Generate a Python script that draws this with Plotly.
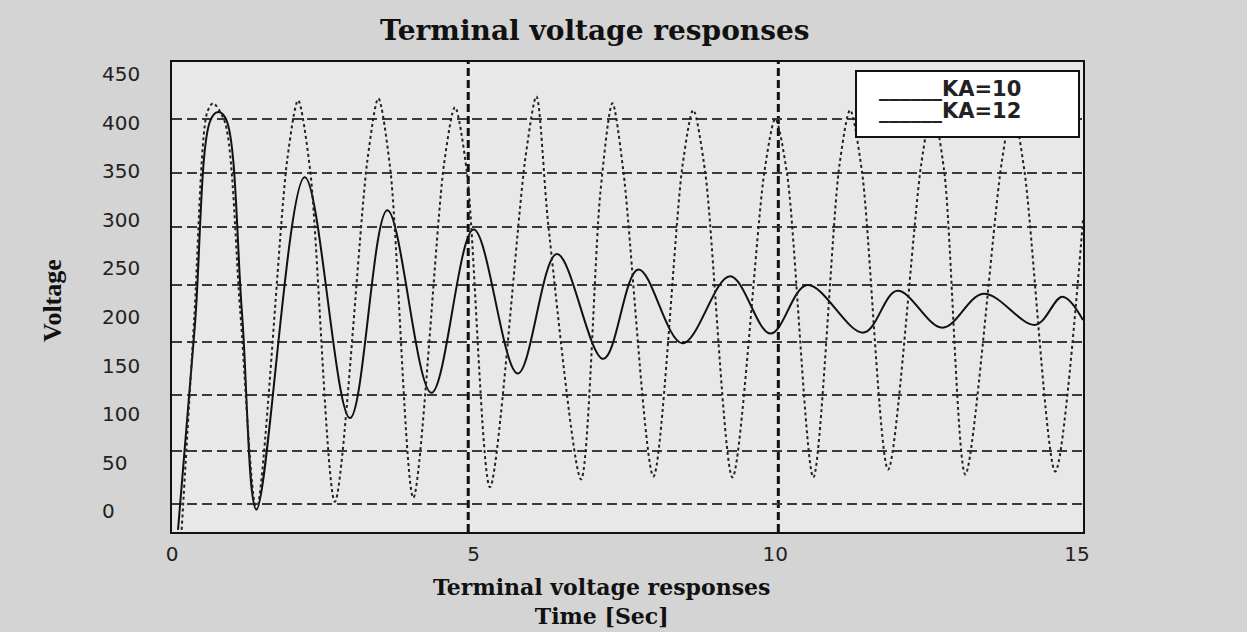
import plotly.graph_objects as go

# ---------------- data ----------------
series_names = ["KA=10", "KA=12"]

# KA=10 (solid, damped response)
t_ka10 = [0.10, 0.38, 0.64, 0.77, 0.90, 1.16, 1.40, 2.20, 2.95, 3.57, 4.30, 5.00,
          5.73, 6.38, 7.15, 7.73, 8.46, 9.25, 9.92, 10.53, 11.46, 12.02, 12.77,
          13.45, 14.31, 14.76, 15.10]
v_ka10 = [-19, 192, 403, 411, 403, 204, 2, 344, 96, 310, 122, 290,
          142, 265, 157, 249, 173, 242, 183, 233, 184, 227, 189,
          224, 192, 221, 197]

# KA=12 (dotted, sustained oscillation)
t_ka12 = [0.16, 0.37, 0.58, 0.68, 0.88, 1.13, 1.40,
          1.91, 2.09, 2.29, 2.70,
          3.24, 3.42, 3.62, 4.00,
          4.51, 4.69, 4.89, 5.27,
          5.86, 6.04, 6.24, 6.78,
          7.10, 7.30, 7.48, 7.98,
          8.46, 8.64, 8.84, 9.29,
          9.82, 10.00, 10.20, 10.63,
          11.06, 11.24, 11.44, 11.87,
          12.42, 12.60, 12.80, 13.15,
          13.75, 13.93, 14.13, 14.64,
          15.10]
v_ka12 = [-19, 200, 410, 420, 400, 207, 2,
          362, 423, 351, 10,
          362, 425, 351, 14,
          358, 416, 348, 25,
          365, 427, 293, 33,
          328, 420, 351, 36,
          355, 413, 348, 35,
          350, 404, 345, 35,
          355, 413, 348, 43,
          358, 415, 350, 38,
          358, 415, 350, 41,
          300]

x_tick_vals = [0, 5, 10, 15]
x_tick_text = ["0", "5", "10", "15"]
y_tick_vals = [0, 50, 100, 150, 200, 250, 300, 350, 400, 450]
y_tick_text = ["0", "50", "100", "150", "200", "250", "300", "350", "400", "450"]

# dashed grid lines as they appear in the figure
grid_y = [8, 62, 120, 174, 233, 293, 348, 404]
grid_x = [4.91, 10.05]

title_text = "Terminal voltage responses"
x_title_lines = ["Terminal voltage responses", "Time [Sec]"]
y_title_text = "Voltage"

# ---------------- figure ----------------
fig = go.Figure()
fig.add_trace(go.Scatter(x=t_ka10, y=v_ka10, mode="lines", name=series_names[0],
                         line=dict(color="#111111", width=2, shape="spline", smoothing=1.0)))
fig.add_trace(go.Scatter(x=t_ka12, y=v_ka12, mode="lines", name=series_names[1],
                         line=dict(color="#222222", width=2, dash="dot", shape="spline", smoothing=0.8)))

serif_wide = "DejaVu Serif"
sans = "DejaVu Sans"

fig.update_layout(
    width=1247, height=632,
    margin=dict(l=172, r=164, t=62, b=100),
    paper_bgcolor="#d4d4d4",
    plot_bgcolor="#e8e8e8",
    showlegend=False,
    title=dict(text="<b>" + title_text + "</b>", xref="container", x=0.477, xanchor="center",
               yref="container", y=1 - 30 / 632, yanchor="middle",
               font=dict(family=serif_wide, size=28, color="#111111")),
    xaxis=dict(range=[0, 15.1], tickvals=x_tick_vals, ticktext=x_tick_text,
               showgrid=False, zeroline=False, showline=True, mirror=True,
               linecolor="#111111", linewidth=2, ticks="",
               ticklabelstandoff=3,
               tickfont=dict(family=sans, size=20, color="#222222")),
    yaxis=dict(range=[-21.2, 462.5], tickvals=grid_y, showticklabels=False,
               showgrid=True, gridcolor="#3a3a3a", gridwidth=2, griddash="10px,5px",
               zeroline=False, showline=True, mirror=True,
               linecolor="#111111", linewidth=2, ticks=""),
)

# vertical dashed grid lines
for gx in grid_x:
    fig.add_shape(type="line", xref="x", yref="paper", x0=gx, x1=gx, y0=0, y1=1,
                  line=dict(color="#111111", width=3, dash="8px,4px"), layer="below")

# y tick labels (left aligned as in the figure)
for v, txt in zip(y_tick_vals, y_tick_text):
    fig.add_annotation(x=-0.079, xref="paper", y=v, yref="y", text=txt,
                       xanchor="left", yanchor="middle", showarrow=False,
                       font=dict(family=sans, size=20, color="#222222"))

# y axis title
fig.add_annotation(x=(52 - 172) / 911, xref="paper", y=(532 - 301) / 470, yref="paper",
                   text="<b>" + y_title_text + "</b>", textangle=-90, showarrow=False,
                   xanchor="center", yanchor="middle",
                   font=dict(family="Liberation Serif", size=26, color="#111111"))

# x axis title (two lines in one text block)
fig.add_annotation(x=(601 - 172) / 911, xref="paper", y=(532 - 601) / 470,
                   yref="paper", text="<br>".join("<b>" + s + "</b>" for s in x_title_lines),
                   showarrow=False, xanchor="center", yanchor="middle", align="center",
                   borderpad=0,
                   font=dict(family=serif_wide, size=22, color="#111111"))

# legend box
fig.add_shape(type="rect", xref="paper", yref="paper",
              x0=(856 - 172) / 911, x1=(1079 - 172) / 911,
              y0=(532 - 137) / 470, y1=(532 - 71) / 470,
              line=dict(color="#111111", width=2), fillcolor="white", layer="above")
for i, nm in enumerate(series_names):
    fig.add_annotation(x=(877 - 172) / 911, xref="paper", y=(532 - (89 + 22 * i)) / 470,
                       yref="paper", text="<b>______" + nm + "</b>", showarrow=False,
                       xanchor="left", yanchor="middle",
                       font=dict(family=sans, size=21, color="#222222"))

fig.write_html("out.html", config={"displayModeBar": False},
               post_script="document.body.style.margin='0';document.body.style.overflow='hidden';")
